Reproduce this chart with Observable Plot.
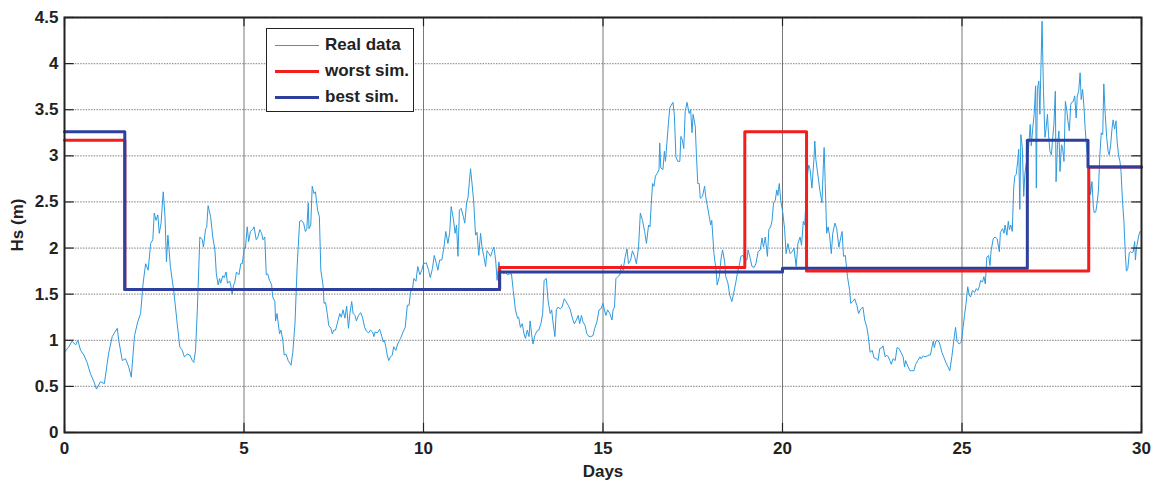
<!DOCTYPE html>
<html>
<head>
<meta charset="utf-8">
<script src="https://cdn.jsdelivr.net/npm/d3@7"></script>
<script src="https://cdn.jsdelivr.net/npm/@observablehq/plot@0.6"></script>
<style>
  body { margin: 0; background: #fff; font-family: "Liberation Sans", Arial, sans-serif; }
  #wrap { position: relative; width: 1158px; height: 482px; }
  .legend { position: absolute; left: 266px; top: 28px; width: 146px; height: 82px;
            border: 1.5px solid #222; background: #fff; font-weight: bold; font-size: 17px; color: #222; }
  .row { position: absolute; left: 8px; height: 20px; display: flex; align-items: center; }
  .sw { width: 44px; margin-right: 6px; }
</style>
</head>
<body>
<div id="wrap"></div>
<script>
// Measured significant wave height, one value per sample time (days)
const days = [
  0.00,0.12,0.21,0.31,0.37,0.45,0.54,0.63,0.72,0.82,0.89,1.00,1.11,1.19,1.23,1.33,1.39,1.47,1.51,1.61,
  1.70,1.79,1.86,1.95,2.04,2.12,2.19,2.26,2.33,2.40,2.46,2.50,2.55,2.60,2.64,2.69,2.75,2.80,2.84,2.88,
  2.95,3.05,3.14,3.21,3.28,3.34,3.42,3.49,3.56,3.60,3.65,3.70,3.77,
  3.84,3.87,3.93,3.96,4.00,4.07,4.13,4.19,4.23,4.28,4.32,4.35,4.41,4.45,4.50,4.54,4.60,4.63,4.67,4.71,
  4.74,4.79,4.86,4.91,4.95,5.01,5.04,5.09,5.13,5.18,5.24,5.28,5.34,5.39,5.44,5.49,5.53,5.58,5.62,5.66,
  5.71,5.77,5.80,5.86,5.88,5.92,5.99,6.03,6.08,6.12,6.17,6.23,6.31,6.36,6.42,6.48,6.55,6.60,6.66,6.71,
  6.75,6.79,6.81,6.86,6.90,6.95,6.99,7.05,7.10,7.14,7.20,7.23,7.27,7.32,7.36,7.42,7.46,7.50,
  7.55,7.61,7.67,7.71,7.76,7.81,7.86,7.91,7.95,8.00,8.04,8.09,8.13,8.19,8.25,8.30,8.36,8.41,8.47,8.52,
  8.58,8.62,8.65,8.71,8.78,8.84,8.88,8.91,8.95,8.99,9.03,9.08,9.13,9.17,9.23,9.28,9.36,9.43,9.49,9.55,
  9.60,9.64,9.69,9.73,9.79,9.84,9.90,9.95,10.00,10.08,10.14,10.19,10.25,10.30,10.36,10.40,10.45,10.51,
  10.57,10.62,10.68,10.73,10.77,10.83,10.88,10.92,10.96,11.00,11.05,11.11,11.15,11.20,11.24,11.31,
  11.36,11.40,11.45,11.49,11.54,11.59,11.63,11.68,11.73,11.77,11.82,11.87,11.91,11.96,12.01,12.05,12.10,
  12.14,12.19,12.24,12.28,12.34,12.39,12.45,12.50,12.56,12.62,12.65,12.70,12.75,12.80,12.84,12.89,12.94,
  12.97,13.01,13.05,13.10,13.16,13.21,13.27,13.32,13.36,13.42,13.47,13.53,13.57,13.60,13.66,13.70,13.75,
  13.81,13.86,13.92,13.97,14.03,14.09,14.14,14.20,14.26,14.31,14.35,14.40,14.44,14.50,14.55,14.61,14.66,
  14.72,14.77,14.83,14.89,14.94,15.00,
  15.04,15.08,15.13,15.19,15.25,15.28,15.32,15.36,15.41,15.47,15.51,15.56,15.62,15.67,15.71,15.77,15.82,
  15.88,15.93,15.99,16.04,16.10,16.16,16.21,16.27,16.31,16.34,16.38,16.42,16.46,16.51,16.56,16.58,16.61,
  16.67,16.71,16.74,16.78,16.82,16.86,16.90,16.95,16.99,17.03,17.08,17.14,17.17,17.21,17.25,17.29,17.34,
  17.40,17.44,17.48,17.51,17.57,17.60,17.64,17.68,17.71,17.77,17.83,17.86,17.90,17.96,18.00,18.03,18.09,
  18.15,18.18,18.24,18.29,18.33,18.39,18.42,18.48,18.53,18.59,18.64,18.70,18.74,18.79,
  18.84,18.90,18.95,19.01,19.04,19.10,19.15,19.21,19.26,19.32,19.38,19.43,19.47,19.52,19.58,19.62,19.67,
  19.71,19.75,19.80,19.84,19.87,19.91,19.95,20.01,20.06,20.10,20.15,20.21,20.27,20.32,20.38,20.43,20.49,
  20.53,20.58,20.62,20.68,20.73,20.77,20.82,20.88,20.90,20.93,20.99,21.04,21.10,21.14,21.16,21.19,21.23,
  21.27,21.31,21.36,21.40,21.46,21.51,21.57,21.62,21.66,21.70,21.75,21.81,21.87,21.90,21.96,22.01,22.07,
  22.12,22.18,22.24,22.29,22.35,22.39,22.44,22.50,22.55,
  22.62,22.66,22.71,22.77,22.80,22.86,22.90,22.95,22.99,23.03,23.08,23.14,23.19,23.25,23.30,23.36,23.40,
  23.43,23.49,23.55,23.60,23.66,23.71,23.77,23.83,23.86,23.92,23.97,24.03,24.08,24.12,24.16,24.20,24.23,
  24.27,24.33,24.38,24.44,24.49,24.55,24.60,24.66,24.72,24.77,24.82,24.86,24.92,24.98,25.03,25.07,25.11,
  25.16,25.20,25.24,25.29,25.35,25.40,25.44,25.48,25.52,25.57,25.61,25.65,25.69,25.74,25.78,25.81,25.87,
  25.92,25.98,26.04,26.07,26.13,26.17,26.20,
  26.25,26.29,26.32,26.36,26.40,26.44,26.47,26.51,26.55,26.58,26.61,26.64,26.68,26.72,26.75,26.79,26.82,
  26.86,26.90,26.93,26.97,27.01,27.05,27.07,27.10,27.14,27.17,27.19,27.23,27.27,27.31,27.34,27.38,27.41,
  27.45,27.49,27.52,27.56,27.60,27.62,27.66,27.70,27.73,27.77,27.80,27.84,27.88,27.92,27.95,27.99,28.03,
  28.06,28.10,28.14,28.18,28.21,28.25,28.29,28.32,28.36,28.40,28.43,28.47,28.51,28.55,28.58,28.62,28.66,
  28.69,28.73,28.77,28.80,28.84,28.88,28.92,28.95,28.99,29.03,29.07,29.10,29.14,29.18,29.21,29.25,29.29,
  29.32,29.36,29.40,29.43,29.47,29.51,29.55,29.58,29.62,29.66,29.70,29.73,29.77,29.81,29.83,29.86,29.92,29.96
];
const hsReal = [
  0.87,0.93,0.99,0.95,1.00,0.89,0.84,0.76,0.64,0.55,0.47,0.55,0.53,0.75,0.86,1.04,1.08,1.13,1.00,0.78,
  0.80,0.71,0.60,1.05,1.20,1.29,1.62,1.83,1.76,2.05,2.09,2.38,2.30,2.36,2.16,2.27,2.61,2.34,1.85,2.14,
  1.80,1.51,1.18,0.93,0.89,0.82,0.85,0.84,0.78,0.76,0.89,1.33,2.12,
  2.09,2.01,2.21,2.22,2.46,2.34,2.12,1.98,1.72,1.60,1.67,1.62,1.70,1.68,1.74,1.62,1.64,1.60,1.50,1.60,
  1.62,1.74,1.71,1.83,1.83,2.00,2.00,2.23,2.07,2.18,2.20,2.23,2.09,2.12,2.20,2.16,2.09,2.12,1.71,1.72,
  1.65,1.60,1.47,1.42,1.21,1.29,1.07,1.11,1.00,0.84,0.85,0.78,0.73,0.87,1.18,1.80,2.29,2.30,2.27,2.18,
  2.21,2.49,2.21,2.25,2.67,2.59,2.61,2.41,2.34,1.76,1.60,1.40,1.41,1.29,1.16,1.13,1.07,1.11,
  1.11,1.20,1.29,1.25,1.33,1.24,1.37,1.13,1.29,1.42,1.29,1.27,1.21,1.27,1.30,1.25,1.14,1.10,1.08,1.11,
  1.09,1.04,1.09,1.08,1.12,1.04,0.98,1.00,0.93,0.84,0.78,0.82,0.84,0.93,0.89,0.96,1.02,1.09,1.14,1.38,
  1.38,1.53,1.54,1.67,1.64,1.80,1.71,1.76,1.83,1.84,1.76,1.68,1.78,1.92,1.83,1.76,1.87,1.87,
  2.01,2.18,2.05,2.17,2.45,2.32,2.16,2.25,1.91,2.41,2.43,2.34,2.27,2.49,2.55,2.86,
  2.67,2.49,2.14,2.17,1.92,2.16,2.01,1.91,1.80,1.97,1.94,1.91,1.96,2.01,1.87,1.65,1.85,
  1.76,1.74,1.72,1.74,1.71,1.72,1.72,1.54,1.33,1.24,1.25,1.14,1.18,1.07,1.02,1.11,1.04,
  1.21,1.07,0.96,1.05,1.10,1.11,1.18,1.29,1.65,1.67,1.43,1.29,1.33,1.22,1.04,1.33,1.36,
  1.34,1.36,1.45,1.42,1.38,1.33,1.25,1.18,1.22,1.27,1.18,1.27,1.20,1.16,1.07,1.04,1.04,
  1.05,1.13,1.20,1.33,1.34,1.40,
  1.33,1.27,1.33,1.29,1.22,1.33,1.36,1.67,1.69,1.71,1.82,1.76,1.91,1.99,1.83,1.87,1.97,
  1.91,1.83,2.01,2.38,2.30,2.18,2.05,2.25,2.23,2.45,2.70,2.67,2.78,2.81,2.85,3.14,2.87,
  2.85,3.05,2.94,3.14,3.34,3.52,3.55,3.58,3.43,2.99,2.94,2.94,3.21,3.17,3.08,3.48,3.58,
  3.46,3.50,3.25,3.45,3.32,3.03,2.70,2.70,2.54,2.56,2.67,2.56,2.47,2.34,2.25,2.30,1.94,
  1.76,1.60,1.69,1.89,1.98,1.85,1.69,1.62,1.49,1.42,1.51,1.63,1.72,1.80,
  1.91,1.92,1.87,1.87,1.98,1.89,1.80,1.79,1.83,1.96,1.98,2.11,2.01,2.12,1.91,2.20,2.23,
  2.30,2.49,2.52,2.63,2.57,2.70,2.52,2.38,2.20,1.94,2.05,1.94,1.96,2.00,1.80,2.05,2.12,
  2.03,2.29,2.25,2.74,2.90,2.85,2.65,2.99,3.16,2.96,2.78,2.63,2.49,2.92,3.09,2.70,2.16,
  2.23,2.14,1.94,2.16,2.27,2.21,2.01,2.11,2.18,1.91,1.92,1.69,1.54,1.40,1.42,1.45,1.38,
  1.29,1.34,1.36,1.22,1.14,1.04,0.87,0.89,0.81,
  0.80,0.78,0.91,0.92,0.94,0.82,0.84,0.82,0.78,0.74,0.80,0.78,0.92,0.91,0.87,0.82,0.71,
  0.78,0.72,0.67,0.67,0.67,0.74,0.78,0.82,0.80,0.83,0.82,0.83,0.84,0.84,0.92,0.99,0.92,
  0.99,1.00,0.96,0.87,0.82,0.76,0.72,0.67,0.83,0.99,1.14,0.99,0.96,0.98,1.14,1.27,1.39,
  1.58,1.49,1.47,1.54,1.52,1.56,1.54,1.58,1.65,1.63,1.69,1.61,1.90,1.92,1.81,1.97,2.10,
  2.12,2.10,1.96,2.17,2.21,2.16,2.25,
  2.14,2.29,2.20,2.25,2.18,2.65,2.78,2.80,2.94,3.07,2.42,3.23,3.09,2.56,2.80,2.92,2.94,
  3.11,3.34,3.11,3.30,3.45,3.76,2.65,3.72,3.81,3.45,3.81,4.46,3.70,3.20,3.29,3.45,3.23,
  3.05,3.01,3.16,3.34,3.70,2.72,3.12,3.27,2.83,3.12,3.09,2.94,3.59,3.49,3.38,3.27,3.56,
  3.58,3.59,3.65,3.41,3.65,3.70,3.90,3.61,3.72,3.52,3.30,3.09,2.94,2.80,2.58,2.72,2.43,
  2.38,2.40,2.51,2.62,3.01,3.25,3.23,3.78,3.45,3.20,3.05,3.01,3.12,3.30,3.39,3.29,3.38,
  3.16,3.01,2.94,2.83,2.51,2.29,1.93,1.75,1.78,1.95,1.96,1.95,1.96,2.07,1.87,2.00,2.13,2.18
];

// Piecewise-constant simulations: value holds from each start day to the next
const worstDays = [0, 1.68, 12.12, 18.95, 20.67, 28.53, 30];
const worstHs   = [3.17, 1.55, 1.79, 3.26, 1.75, 2.88, 2.88];
const bestDays  = [0, 1.68, 12.12, 20.0, 26.82, 28.51, 30];
const bestHs    = [3.26, 1.55, 1.74, 1.78, 3.17, 2.88, 2.88];

const xTicks = [0, 5, 10, 15, 20, 25, 30];
const yTicks = [0, 0.5, 1, 1.5, 2, 2.5, 3, 3.5, 4, 4.5];

const seriesNames = ["Real data", "worst sim.", "best sim."];
const seriesColors = ["#2d9ade", "#f21d1d", "#2f3f9e"];

const real = days.map((d, i) => ({day: d, hs: hsReal[i]}));
const worst = worstDays.map((d, i) => ({day: d, hs: worstHs[i]}));
const best = bestDays.map((d, i) => ({day: d, hs: bestHs[i]}));

const chart = Plot.plot({
  width: 1158,
  height: 482,
  marginLeft: 64,
  marginRight: 17,
  marginTop: 17,
  marginBottom: 50,
  style: {fontFamily: "'Liberation Sans', Arial, sans-serif", fontSize: "17px", fontWeight: "bold", color: "#222", background: "#fff"},
  x: {domain: [0, 30]},
  y: {domain: [0, 4.5]},
  marks: [
    Plot.gridY(yTicks, {stroke: "#9a9a9a", strokeOpacity: 1, strokeWidth: 1.3, strokeDasharray: "1.5,1.2"}),
    Plot.gridX(xTicks, {stroke: "#555", strokeOpacity: 1, strokeWidth: 0.8}),
    Plot.line(real, {x: "day", y: "hs", stroke: seriesColors[0], strokeWidth: 1}),
    Plot.line(worst, {x: "day", y: "hs", curve: "step-after", stroke: seriesColors[1], strokeWidth: 3}),
    Plot.line(best, {x: "day", y: "hs", curve: "step-after", stroke: seriesColors[2], strokeWidth: 3}),
    // inward tick marks on all four sides
    Plot.ruleX(xTicks, {y1: 0, y2: 0.1, stroke: "#222", strokeWidth: 1.2}),
    Plot.ruleX(xTicks, {y1: 4.4, y2: 4.5, stroke: "#222", strokeWidth: 1.2}),
    Plot.ruleY(yTicks, {x1: 0, x2: 0.27, stroke: "#222", strokeWidth: 1.2}),
    Plot.ruleY(yTicks, {x1: 29.73, x2: 30, stroke: "#222", strokeWidth: 1.2}),
    Plot.frame({stroke: "#222", strokeWidth: 2}),
    Plot.axisX(xTicks, {tickSize: 0, tickPadding: 9, tickFormat: d => String(d),
      label: "Days", labelAnchor: "center", labelArrow: "none", labelOffset: 44}),
    Plot.axisY(yTicks, {tickSize: 0, tickPadding: 6, tickFormat: d => String(d),
      label: "Hs (m)", labelAnchor: "center", labelArrow: "none", labelOffset: 54})
  ]
});

const wrap = document.getElementById("wrap");
wrap.appendChild(chart);

// Legend box inside the plot area
const legend = document.createElement("div");
legend.className = "legend";
const widths = [1, 3, 3];
seriesNames.forEach((name, i) => {
  const row = document.createElement("div");
  row.className = "row";
  row.style.top = (6 + i * 26) + "px";
  const sw = document.createElement("div");
  sw.className = "sw";
  sw.style.borderTop = widths[i] + "px solid " + seriesColors[i];
  const label = document.createElement("span");
  label.textContent = name;
  row.appendChild(sw);
  row.appendChild(label);
  legend.appendChild(row);
});
wrap.appendChild(legend);
</script>
</body>
</html>
